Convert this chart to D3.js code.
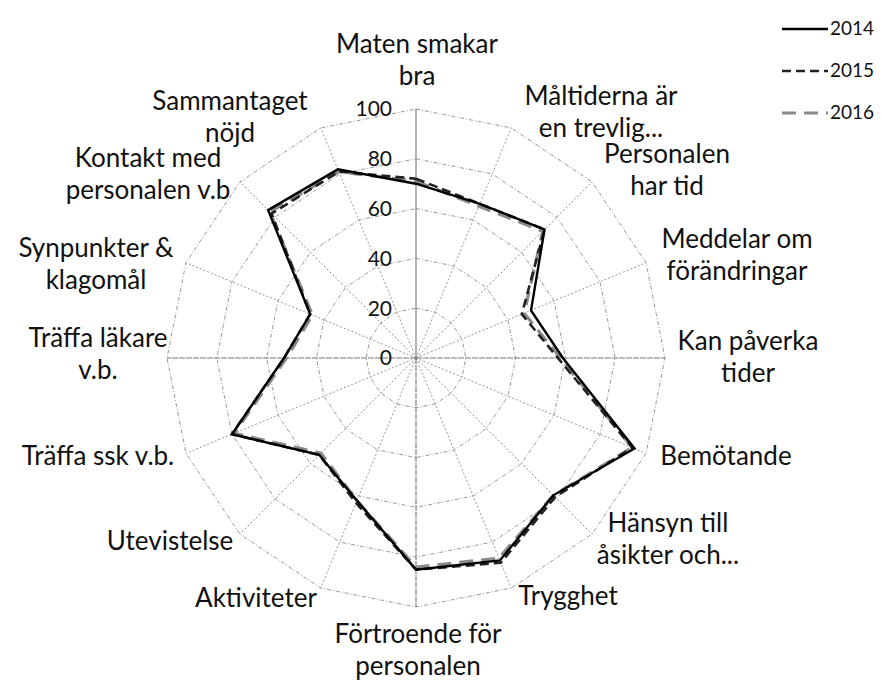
<!DOCTYPE html>
<html>
<head>
<meta charset="utf-8">
<script src="https://cdn.jsdelivr.net/npm/d3@7"></script>
<style>
  body { margin: 0; background: #fff; }
  text { font-family: Lato, "Open Sans", sans-serif; fill: #111; }
</style>
</head>
<body>
<div id="my_dataviz"></div>
<script>
// categories, clockwise from the top
var categories = ["Maten smakar\nbra", "Måltiderna är\nen trevlig...", "Personalen\nhar tid",
  "Meddelar om\nförändringar", "Kan påverka\ntider", "Bemötande", "Hänsyn till\nåsikter och...",
  "Trygghet", "Förtroende för\npersonalen", "Aktiviteter", "Utevistelse", "Träffa ssk v.b.",
  "Träffa läkare\nv.b.", "Synpunkter &\nklagomål", "Kontakt med\npersonalen v.b", "Sammantaget\nnöjd"];

var years = ["2014", "2015", "2016"];
var values2014 = [70, 67, 73, 50, 59, 95, 78, 88, 85, 62, 55, 80, 53, 46, 84, 82];
var values2015 = [72, 67, 73, 46, 57, 94, 79, 89, 85, 63, 55, 80, 53, 46, 82, 81];
var values2016 = [71, 66, 72, 47, 58, 94, 78, 87, 84, 62, 54, 79, 52, 45, 83, 81];
var tickValues = [0, 20, 40, 60, 80, 100];

// label placement (center x, first baseline) relative to chart center
var labelPos = [[1, -305], [185, -253], [251, -195], [321, -110], [332, -8], [310, 107],
  [252, 174], [152, 247], [2, 285], [-160, 249], [-246, 192], [-318, 107],
  [-318, -11], [-320, -101], [-268, -191], [-186, -248]];

var width = 882, height = 682,
    cx = 416, cy = 358, R = 249, lineH = 32;

var svg = d3.select("#my_dataviz")
  .append("svg")
    .attr("width", width)
    .attr("height", height)
  .append("g")
    .attr("transform", "translate(" + cx + "," + cy + ")");

var r = d3.scaleLinear().domain([0, 100]).range([0, R]);
var angle = d3.scaleLinear().domain([0, categories.length]).range([0, 2 * Math.PI]);

function px(v, i) { return r(v) * Math.sin(angle(i)); }
function py(v, i) { return -r(v) * Math.cos(angle(i)); }

// polygon rings
tickValues.slice(1).forEach(function(t) {
  svg.append("path")
    .attr("d", d3.lineRadial()
      .angle(function(d, i) { return angle(i); })
      .radius(function() { return r(t); })
      .curve(d3.curveLinearClosed)(categories))
    .attr("fill", "none")
    .attr("stroke", "#8c8c8c")
    .attr("stroke-width", 0.9)
    .attr("stroke-dasharray", "4,2,1,2");
});

// spokes
svg.selectAll(".spoke")
  .data(categories)
  .enter().append("line")
    .attr("x1", 0).attr("y1", 0)
    .attr("x2", function(d, i) { return px(100, i); })
    .attr("y2", function(d, i) { return py(100, i); })
    .attr("stroke", function(d, i) { return i % 4 == 0 ? "#777" : "#8c8c8c"; })
    .attr("stroke-width", function(d, i) { return i % 4 == 0 ? 1.1 : 0.9; })
    .attr("stroke-dasharray", function(d, i) { return i == 0 ? null : (i % 4 == 0 ? "6,1" : "2,2"); });

// value axis ticks
svg.selectAll(".tick")
  .data(tickValues)
  .enter().append("text")
    .attr("x", -24)
    .attr("y", function(d) { return -r(d); })
    .attr("dy", "0.35em")
    .attr("text-anchor", "end")
    .style("font-size", "21px")
    .text(function(d) { return d; });

// series, 2016 underneath
var series = [
  {name: "2016", values: values2016, color: "#8a8a8a", width: 3.2, dash: "14,8"},
  {name: "2015", values: values2015, color: "#222", width: 2.6, dash: "9,5"},
  {name: "2014", values: values2014, color: "#000", width: 2.4, dash: null}
];

var radar = d3.lineRadial()
  .angle(function(d, i) { return angle(i); })
  .radius(function(d) { return r(d); })
  .curve(d3.curveLinearClosed);

svg.selectAll(".series")
  .data(series)
  .enter().append("path")
    .attr("d", function(s) { return radar(s.values); })
    .attr("fill", "none")
    .attr("stroke", function(s) { return s.color; })
    .attr("stroke-width", function(s) { return s.width; })
    .attr("stroke-dasharray", function(s) { return s.dash; })
    .attr("stroke-linejoin", "miter");

// category labels
var labels = svg.selectAll(".cat")
  .data(categories)
  .enter().append("text")
    .attr("text-anchor", "middle")
    .style("font-size", "26px");

labels.each(function(d, i) {
  var t = d3.select(this);
  d.split("\n").forEach(function(line, k) {
    t.append("tspan")
      .attr("x", labelPos[i][0])
      .attr("y", labelPos[i][1] + k * lineH)
      .text(line);
  });
});

// legend
var legend = d3.select("svg").append("g")
  .attr("transform", "translate(782,0)");

var legendOrder = [series[2], series[1], series[0]];
legendOrder.forEach(function(s, k) {
  var y = 29 + k * 42;
  legend.append("line")
    .attr("x1", 0).attr("x2", 46)
    .attr("y1", y).attr("y2", y)
    .attr("stroke", s.color)
    .attr("stroke-width", s.width)
    .attr("stroke-dasharray", s.dash);
  legend.append("text")
    .attr("x", 48)
    .attr("y", y + 6)
    .style("font-size", "19px")
    .text(s.name);
});
</script>
</body>
</html>
